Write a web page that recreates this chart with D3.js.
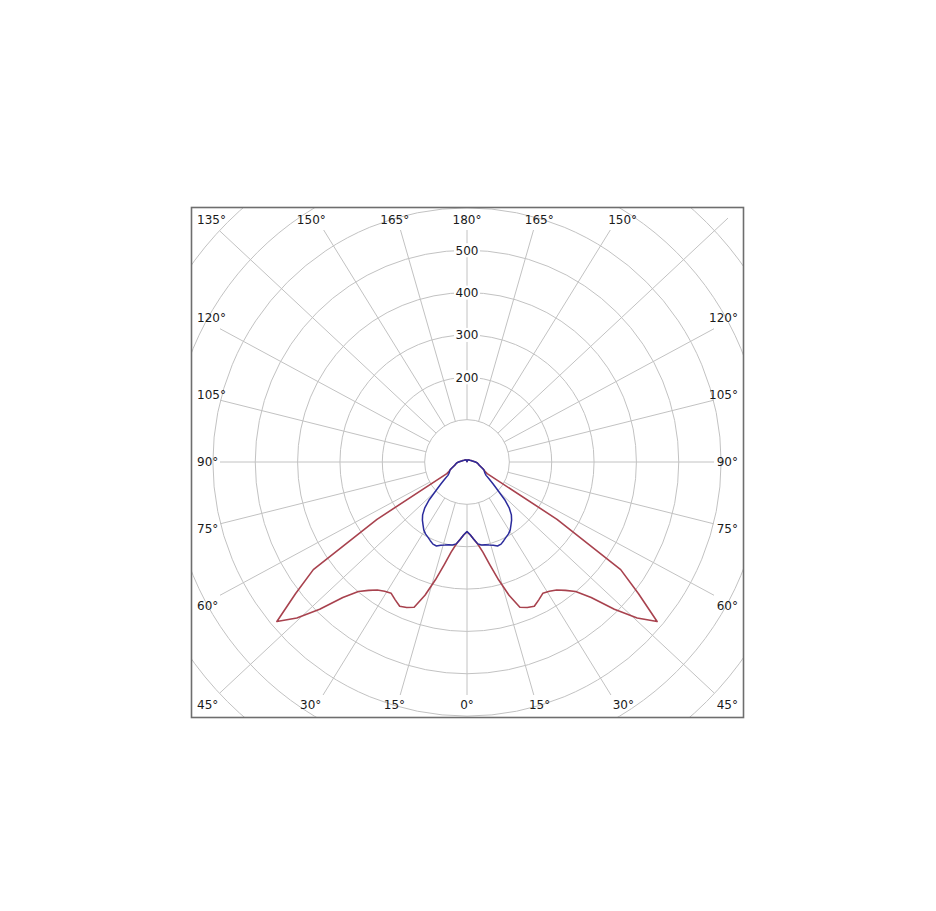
<!DOCTYPE html>
<html>

<head>
    <title>Polar Diagram</title>
    <script src="https://cdn.jsdelivr.net/npm/d3@7"></script>
    <style>
        body { margin: 0; background: #fff; }
    </style>
</head>

<body>
    <svg width="936" height="911" id="mainsvg"></svg>
    <script>
        // gamma angles (deg from nadir) and intensities (cd) for one half, each plane is symmetric
        const angles = [0, 2.5, 5, 7.5, 10, 12.5, 15, 17.5, 20, 22.5, 25, 27.5, 30, 32.5, 35, 37.5, 40, 42.5, 45, 47.5,
            50, 52.5, 55, 57.5, 60, 62.5, 65, 67.5, 70, 75, 80, 85, 90, 100, 110, 120, 130, 140, 150, 160, 170, 180];
        const planeC0 = [165, 172, 183, 196, 216, 248, 288, 330, 365, 372, 376, 367, 358, 362, 369, 382, 399, 434, 492, 545,
            586, 510, 443, 252, 55, 47, 44, 40, 36, 30, 27, 24, 20, 13, 10, 8, 7, 6, 6, 5, 3, 0];
        const planeC90 = [164, 172, 183, 195, 199, 200, 203, 206, 211, 210, 205, 200, 196, 190, 181, 173, 163, 148, 126, 98,
            80, 66, 55, 51, 48, 46, 44, 40, 36, 30, 27, 24, 20, 13, 10, 8, 7, 6, 6, 5, 3, 0];
        const ringValues = [100, 200, 300, 400, 500, 600, 700, 800, 900];
        const ringLabels = [200, 300, 400, 500];
        const spokeAngles = d3.range(0, 360, 15);
        const hiddenSpokeLabels = [225];

        const svg = d3.select('svg');
        const cx = 467, cy = 462;
        const box = { x: 191.5, y: 207.5, w: 552, h: 510 };
        const stretch = 1.07;
        const font = 'DejaVu Sans, Verdana, sans-serif';

        const r = d3.scaleLinear().domain([0, 100]).range([0, 42.35]);

        svg.append('clipPath').attr('id', 'boxclip')
            .append('rect').attr('x', box.x).attr('y', box.y).attr('width', box.w).attr('height', box.h);

        const grid = svg.append('g').attr('clip-path', 'url(#boxclip)');

        grid.selectAll('circle').data(ringValues).join('circle')
            .attr('cx', cx).attr('cy', cy)
            .attr('r', d => r(d))
            .attr('fill', 'none')
            .attr('stroke', '#c2c2c2')
            .attr('stroke-width', 1);

        function dir(a) {
            const rad = a * Math.PI / 180;
            const dx = -Math.sin(rad) * stretch, dy = Math.cos(rad);
            const n = Math.hypot(dx, dy);
            return [dx / n, dy / n];
        }
        function hit(d, x0, x1, y0, y1) {
            let t = Infinity;
            if (d[0] > 1e-9) t = Math.min(t, (x1 - cx) / d[0]);
            if (d[0] < -1e-9) t = Math.min(t, (x0 - cx) / d[0]);
            if (d[1] > 1e-9) t = Math.min(t, (y1 - cy) / d[1]);
            if (d[1] < -1e-9) t = Math.min(t, (y0 - cy) / d[1]);
            return [cx + d[0] * t, cy + d[1] * t];
        }

        grid.selectAll('line').data(spokeAngles).join('line')
            .each(function (a) {
                const d = dir(a);
                const hidden = hiddenSpokeLabels.includes(a);
                const end = hidden ? hit(d, 206, 728, 217, 703) : hit(d, 220, 714, 230, 695);
                d3.select(this)
                    .attr('x1', cx + d[0] * r(100)).attr('y1', cy + d[1] * r(100))
                    .attr('x2', end[0]).attr('y2', end[1]);
            })
            .attr('stroke', '#c2c2c2')
            .attr('stroke-width', 1);

        // ring value labels on the vertical axis
        const rl = svg.append('g').selectAll('g').data(ringLabels).join('g')
            .attr('transform', d => `translate(${cx}, ${cy - r(d)})`);
        rl.append('rect').attr('x', -13).attr('y', -7).attr('width', 26).attr('height', 14).attr('fill', '#fff');
        rl.append('text')
            .attr('text-anchor', 'middle').attr('dy', '0.36em')
            .attr('font-family', font).attr('font-size', 12)
            .attr('fill', '#1a1a1a')
            .text(d => d);

        // angle labels around the frame
        svg.append('g').selectAll('text')
            .data(spokeAngles.filter(a => !hiddenSpokeLabels.includes(a))).join('text')
            .each(function (a) {
                const p = hit(dir(a), 200, 734, 210, 715);
                let x = Math.max(210, Math.min(724, p[0]));
                let y = Math.max(220, Math.min(705, p[1]));
                let anchor = 'middle';
                if (x <= 210.5) { x = 197; anchor = 'start'; }
                else if (x >= 723.5) { x = 738; anchor = 'end'; }
                d3.select(this).attr('x', x).attr('y', y).attr('text-anchor', anchor);
            })
            .attr('dy', '0.36em')
            .attr('font-family', font).attr('font-size', 12)
            .attr('fill', '#1a1a1a')
            .text(a => (a <= 180 ? a : 360 - a) + '°');

        // full curve: left half from 180 down to 0, right half from 0 up to 180
        function fullCurve(vals) {
            const left = angles.map((g, i) => ({ a: Math.PI + g * Math.PI / 180, v: vals[i] })).reverse();
            const right = angles.map((g, i) => ({ a: Math.PI - g * Math.PI / 180, v: vals[i] })).slice(1);
            return left.concat(right);
        }
        const radial = d3.lineRadial().angle(d => d.a).radius(d => r(d.v));

        const plot = svg.append('g').attr('transform', `translate(${cx}, ${cy})`);
        plot.append('path').attr('d', radial(fullCurve(planeC0)))
            .attr('fill', 'none').attr('stroke', '#a8424e').attr('stroke-width', 1.6)
            .attr('stroke-linejoin', 'round');
        plot.append('path').attr('d', radial(fullCurve(planeC90)))
            .attr('fill', 'none').attr('stroke', '#2b2b9c').attr('stroke-width', 1.5)
            .attr('stroke-linejoin', 'round');

        svg.append('rect')
            .attr('x', box.x).attr('y', box.y).attr('width', box.w).attr('height', box.h)
            .attr('fill', 'none').attr('stroke', '#6e6e6e').attr('stroke-width', 1.6);
    </script>
</body>

</html>
